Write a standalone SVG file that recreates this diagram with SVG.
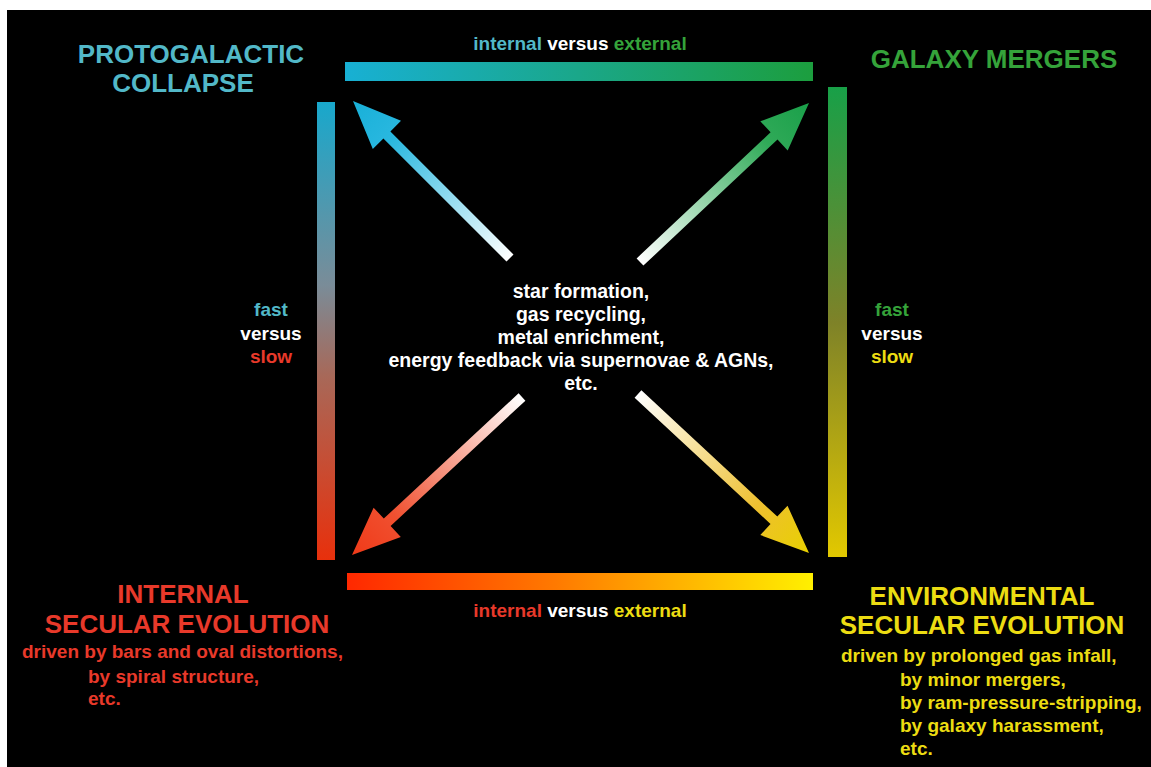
<svg xmlns="http://www.w3.org/2000/svg" width="1151" height="767" viewBox="0 0 1151 767">
<style>
text{font-family:"Liberation Sans",Arial,sans-serif;font-weight:bold}
.title{font-size:26px}
.lbl{font-size:19px}
.side{font-size:19px}
.mid{font-size:19.5px;fill:#ffffff}
.desc{font-size:19px}
.cy{fill:#52b8c8}
.gr{fill:#35a33a}
.wh{fill:#ffffff}
.rd{fill:#e8392a}
.ye{fill:#ecdc12}
</style>
<defs>
<linearGradient id="gTop" x1="0" y1="0" x2="1" y2="0"><stop offset="0" stop-color="#18b0d4"/><stop offset="1" stop-color="#1c9e3e"/></linearGradient>
<linearGradient id="gBot" x1="0" y1="0" x2="1" y2="0"><stop offset="0" stop-color="#ff2800"/><stop offset="0.45" stop-color="#ff7a00"/><stop offset="1" stop-color="#fff000"/></linearGradient>
<linearGradient id="gLeft" x1="0" y1="0" x2="0" y2="1"><stop offset="0" stop-color="#18a8cc"/><stop offset="0.4" stop-color="#7a8c98"/><stop offset="0.6" stop-color="#a86858"/><stop offset="1" stop-color="#e8300c"/></linearGradient>
<linearGradient id="gRight" x1="0" y1="0" x2="0" y2="1"><stop offset="0" stop-color="#18a048"/><stop offset="0.5" stop-color="#7e8228"/><stop offset="1" stop-color="#e2c800"/></linearGradient>
<linearGradient id="aTL" gradientUnits="userSpaceOnUse" x1="510" y1="258" x2="353" y2="101"><stop offset="0" stop-color="#ffffff"/><stop offset="0.75" stop-color="#2ab8e0"/><stop offset="1" stop-color="#18b0d8"/></linearGradient>
<linearGradient id="aTR" gradientUnits="userSpaceOnUse" x1="640" y1="262" x2="809" y2="103"><stop offset="0" stop-color="#ffffff"/><stop offset="0.75" stop-color="#30aa58"/><stop offset="1" stop-color="#1aa04a"/></linearGradient>
<linearGradient id="aBL" gradientUnits="userSpaceOnUse" x1="522" y1="397" x2="352" y2="555"><stop offset="0" stop-color="#ffffff"/><stop offset="0.75" stop-color="#f05030"/><stop offset="1" stop-color="#f03a18"/></linearGradient>
<linearGradient id="aBR" gradientUnits="userSpaceOnUse" x1="638" y1="394" x2="809" y2="553"><stop offset="0" stop-color="#ffffff"/><stop offset="0.7" stop-color="#eec030"/><stop offset="1" stop-color="#e8d000"/></linearGradient>
</defs>
<rect x="0" y="0" width="1151" height="767" fill="#ffffff"/>
<rect x="7" y="10" width="1144" height="757" fill="#000000"/>

<g id="connectors">
<rect x="345" y="62" width="468" height="19" fill="url(#gTop)"/>
<rect x="347" y="573" width="466" height="17" fill="url(#gBot)"/>
<rect x="317" y="102" width="18" height="458" fill="url(#gLeft)"/>
<rect x="828" y="87" width="19" height="470" fill="url(#gRight)"/>
<polygon fill="url(#aTL)" points="513.5,254.5 390.4,131.4 401,120.8 353,101 372.8,149 383.4,138.4 506.5,261.5"/>
<polygon fill="url(#aTR)" points="643.4,265.6 777.5,139.5 787.7,150.5 809,103 760.3,121.3 770.6,132.3 636.6,258.4"/>
<polygon fill="url(#aBL)" points="518.6,393.3 383.8,518.6 373.6,507.7 352,555 400.8,537 390.6,526 525.4,400.7"/>
<polygon fill="url(#aBR)" points="634.6,397.7 770.5,524 760.3,535 809,553 787.5,505.7 777.3,516.6 641.4,390.3"/>
<text class="lbl" x="580" y="50" text-anchor="middle"><tspan class="cy">internal</tspan><tspan class="wh"> versus </tspan><tspan class="gr">external</tspan></text>
<text class="lbl" x="580" y="617" text-anchor="middle"><tspan class="rd">internal</tspan><tspan class="wh"> versus </tspan><tspan class="ye">external</tspan></text>
<g class="side" text-anchor="middle">
<text class="cy" x="271" y="316">fast</text>
<text class="wh" x="271" y="340">versus</text>
<text class="rd" x="271" y="363">slow</text>
<text class="gr" x="892" y="316">fast</text>
<text class="wh" x="892" y="340">versus</text>
<text class="ye" x="892" y="363">slow</text>
</g>
</g>

<g id="node-center" class="mid" text-anchor="middle">
<text class="mid" x="581" y="298">star formation,</text>
<text class="mid" x="581" y="321">gas recycling,</text>
<text class="mid" x="581" y="344">metal enrichment,</text>
<text class="mid" x="581" y="367">energy feedback via supernovae &amp; AGNs,</text>
<text class="mid" x="581" y="390">etc.</text>
</g>

<g id="node-protogalactic" class="cy">
<text class="title" x="191" y="63" text-anchor="middle">PROTOGALACTIC</text>
<text class="title" x="183" y="92" text-anchor="middle">COLLAPSE</text>
</g>

<g id="node-mergers" class="gr">
<text class="title" x="994" y="68" text-anchor="middle">GALAXY MERGERS</text>
</g>

<g id="node-internal" class="rd">
<text class="title" x="183" y="603" text-anchor="middle">INTERNAL</text>
<text class="title" x="187" y="633" text-anchor="middle">SECULAR EVOLUTION</text>
<text class="desc" x="22" y="658">driven by bars and oval distortions,</text>
<text class="desc" x="88" y="683">by spiral structure,</text>
<text class="desc" x="88" y="705">etc.</text>
</g>

<g id="node-environmental" class="ye">
<text class="title" x="982" y="605" text-anchor="middle">ENVIRONMENTAL</text>
<text class="title" x="982" y="634" text-anchor="middle">SECULAR EVOLUTION</text>
<text class="desc" x="841" y="662">driven by prolonged gas infall,</text>
<text class="desc" x="900" y="686">by minor mergers,</text>
<text class="desc" x="900" y="709">by ram-pressure-stripping,</text>
<text class="desc" x="900" y="732">by galaxy harassment,</text>
<text class="desc" x="900" y="755">etc.</text>
</g>
</svg>
